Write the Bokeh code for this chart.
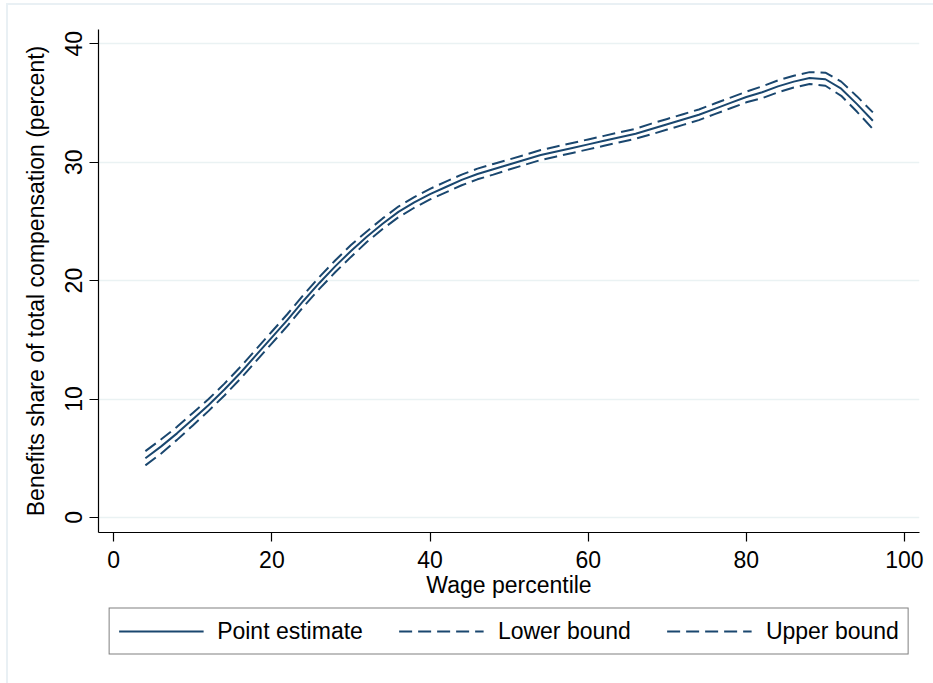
from bokeh.plotting import figure
from bokeh.layouts import column
from bokeh.models import Range1d, FixedTicker, Legend, LegendItem
from bokeh.embed import file_html
from bokeh.resources import INLINE

# ---- data ----
pct = [4, 6, 8, 10, 12, 14, 16, 18, 20, 22, 24, 26, 28, 30, 32, 34, 36, 38, 40,
       42, 44, 46, 48, 50, 52, 54, 56, 58, 60, 62, 64, 66, 68, 70, 72, 74, 76,
       78, 80, 82, 84, 86, 88, 90, 92, 94, 96]

point_est = [5.0, 6.0, 7.1, 8.3, 9.5, 10.8, 12.2, 13.7, 15.2, 16.7, 18.3, 19.8,
             21.2, 22.5, 23.7, 24.8, 25.8, 26.6, 27.3, 27.9, 28.5, 29.0, 29.4,
             29.8, 30.2, 30.6, 30.9, 31.2, 31.5, 31.8, 32.1, 32.4, 32.8, 33.2,
             33.6, 34.0, 34.5, 35.0, 35.5, 35.9, 36.4, 36.8, 37.1, 37.0, 36.2,
             34.9, 33.5]

upper_bound = [5.6, 6.6, 7.65, 8.83, 10.0, 11.3, 12.7, 14.2, 15.7, 17.2, 18.8,
               20.3, 21.7, 23.0, 24.15, 25.25, 26.25, 27.05, 27.75, 28.35,
               28.95, 29.45, 29.85, 30.22, 30.62, 31.02, 31.32, 31.62, 31.92,
               32.22, 32.52, 32.82, 33.25, 33.65, 34.05, 34.45, 34.95, 35.45,
               35.95, 36.4, 36.9, 37.3, 37.6, 37.55, 36.8, 35.55, 34.2]

lower_bound = [4.4, 5.4, 6.55, 7.77, 9.0, 10.3, 11.7, 13.2, 14.7, 16.2, 17.8,
               19.3, 20.7, 22.0, 23.25, 24.35, 25.35, 26.15, 26.85, 27.45,
               28.05, 28.55, 28.95, 29.38, 29.78, 30.18, 30.48, 30.78, 31.08,
               31.38, 31.68, 31.98, 32.35, 32.75, 33.15, 33.55, 34.05, 34.55,
               35.05, 35.4, 35.9, 36.3, 36.6, 36.45, 35.6, 34.25, 32.8]

x_ticks = [0, 20, 40, 60, 80, 100]
y_ticks = [0, 10, 20, 30, 40]

series_labels = ["Point estimate", "Lower bound", "Upper bound"]

# ---- styling ----
NAVY = "#1a476f"
FONT = "Liberation Sans"
FS = "23px"
DASH = "13 6"

p = figure(width=925, height=600,
           x_range=Range1d(-1.93, 101.9), y_range=Range1d(-1.27, 41.2),
           output_backend="svg", toolbar_location=None,
           min_border_left=90, min_border_right=14,
           min_border_top=24, min_border_bottom=73)
p.outline_line_color = None
p.background_fill_color = "white"
p.border_fill_color = "white"

r_pt = p.line(pct, point_est, line_color=NAVY, line_width=2)
r_lo = p.line(pct, lower_bound, line_color=NAVY, line_width=2, line_dash=DASH)
r_up = p.line(pct, upper_bound, line_color=NAVY, line_width=2, line_dash=DASH)

p.xaxis.ticker = FixedTicker(ticks=x_ticks)
p.yaxis.ticker = FixedTicker(ticks=y_ticks)
p.xaxis.axis_label = "Wage percentile"
p.yaxis.axis_label = "Benefits share of total compensation (percent)"
for ax in (p.xaxis, p.yaxis):
    ax.axis_label_text_font = FONT
    ax.axis_label_text_font_size = FS
    ax.axis_label_text_font_style = "normal"
    ax.axis_label_text_color = "black"
    ax.major_label_text_font = FONT
    ax.major_label_text_font_size = FS
    ax.major_label_text_color = "black"
    ax.axis_line_color = "black"
    ax.axis_line_width = 1.2
    ax.major_tick_line_color = "black"
    ax.major_tick_line_width = 1.2
    ax.major_tick_out = 9
    ax.major_tick_in = 0
    ax.minor_tick_line_color = None
p.yaxis.major_label_orientation = "vertical"
p.xaxis.major_label_standoff = 9
p.yaxis.major_label_standoff = 7
p.xaxis.axis_label_standoff = 1
p.yaxis.axis_label_standoff = 14

p.xgrid.visible = False
p.ygrid.grid_line_color = "#eaf2f3"
p.ygrid.grid_line_width = 1.6

# ---- legend strip (separate small figure, same line styles) ----
q = figure(width=925, height=78, x_range=Range1d(0, 1), y_range=Range1d(0, 1),
           output_backend="svg", toolbar_location=None,
           min_border_left=77, min_border_right=0,
           min_border_top=0, min_border_bottom=26)
q.axis.visible = False
q.grid.visible = False
q.outline_line_color = None
q.background_fill_color = "white"
q.border_fill_color = "white"
l_pt = q.line([-5, -4], [-5, -4], line_color=NAVY, line_width=2)
l_lo = q.line([-5, -4], [-5, -4], line_color=NAVY, line_width=2, line_dash=DASH)
l_up = q.line([-5, -4], [-5, -4], line_color=NAVY, line_width=2, line_dash=DASH)

legend = Legend(items=[LegendItem(label=series_labels[0], renderers=[l_pt]),
                       LegendItem(label=series_labels[1], renderers=[l_lo]),
                       LegendItem(label=series_labels[2], renderers=[l_up])],
                orientation="horizontal", location="center")
legend.label_text_font = FONT
legend.label_text_font_size = FS
legend.label_text_color = "black"
legend.glyph_width = 85
legend.glyph_height = 23
legend.label_height = 23
legend.label_standoff = 14
legend.spacing = 36
legend.padding = 9
legend.margin = 0
legend.border_line_color = "black"
legend.border_line_width = 1.2
legend.background_fill_color = "white"
q.add_layout(legend, "center")

layout = column(p, q, spacing=0)
layout.margin = (5, 0, 0, 8)
layout.styles = {"outline": "2px solid #e9f0f4"}

open("out.html", "w").write(file_html(layout, INLINE))
